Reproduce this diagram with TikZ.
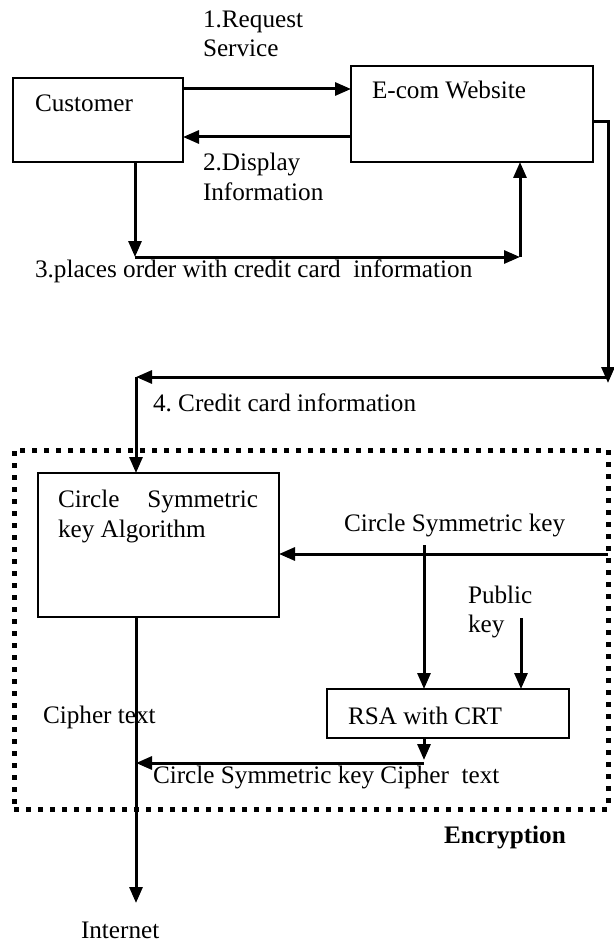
\documentclass[tikz,border=0pt]{standalone}
\usepackage{fontspec}
\setmainfont{Liberation Serif}
\usetikzlibrary{arrows.meta}
\frenchspacing
\begin{document}
\begin{tikzpicture}[x=0.5pt,y=-0.5pt,
  every node/.style={font=\fontsize{12.6}{14.5}\selectfont},
  box/.style={draw, line width=1pt, inner sep=0pt, outer sep=0pt},
  lbl/.style={inner sep=0pt, outer sep=0pt, anchor=base west},
  arr/.style={line width=1.5pt, -{Triangle[length=8pt,width=6.5pt]}},
  groupbox/.style={draw, line width=2.5pt, dash pattern=on 2.5pt off 3.5pt,
                   inner sep=0pt, outer sep=0pt}]
\useasboundingbox (0,0) rectangle (614,941);

% main boxes
\node[box, minimum width=85pt,  minimum height=42pt]   (cust) at (98,120)    {};
\node[box, minimum width=121pt, minimum height=48pt]   (web)  at (472,114)   {};
\node[groupbox, minimum width=297pt, minimum height=179.5pt] (enc) at (311,629.5) {};
\node[box, minimum width=120.5pt, minimum height=72pt] (csa)  at (158.5,545) {};
\node[box, minimum width=121pt, minimum height=24.5pt] (rsa)  at (448,713.5) {};

% texts
\node[lbl] (t-cust) at (35,112)  {Customer};
\node[lbl] (t-web)  at (372,99)  {E-com Website};
\node[lbl] (t-req1) at (203,28)  {1.Request};
\node[lbl] (t-req2) at (203,57)  {Service};
\node[lbl] (t-dis1) at (203,171) {2.Display};
\node[lbl] (t-dis2) at (203,200) {Information};
\node[lbl] (t-ord)  at (35,277)  {3.places order with credit card\ \ information};
\node[lbl] (t-cc)   at (153,411) {4. Credit card information};
\node[lbl] (t-csa1) at (58,507)  {\makebox[100pt][s]{Circle Symmetric}};
\node[lbl] (t-csa2) at (58,537)  {key Algorithm};
\node[lbl] (t-key)  at (344,531) {Circle Symmetric key};
\node[lbl] (t-pub1) at (468,603) {Public};
\node[lbl] (t-pub2) at (468,632) {key};
\node[lbl] (t-rsa)  at (348,724) {RSA with CRT};
\node[lbl] (t-ct)   at (43,723)  {Cipher text};
\node[lbl] (t-kct)  at (153,783) {Circle Symmetric key Cipher\ \ text};
\node[lbl] (t-enc)  at (444,843) {\bfseries Encryption};
\node[lbl] (t-net)  at (81,938)  {Internet};

% customer <-> website
\coordinate (y1) at (0,89);
\coordinate (y2) at (0,137);
\draw[arr] (cust.east |- y1) -- (web.west |- y1);
\draw[arr] (web.west |- y2) -- (cust.east |- y2);

% order path
\coordinate (o1) at (135,257);
\coordinate (o2) at (520,257);
\draw[arr] (cust.south -| o1) -- (o1);
\draw[arr] (o1) -- (o2);
\draw[arr] (o2) -- (o2 |- web.south);

% credit card information to the encryption stage
\coordinate (r1) at (608,122);
\coordinate (r2) at (608,383);
\coordinate (r3) at (608,377);
\coordinate (r4) at (136,377);
\draw[arr] (web.east |- r1) -- (r1) -- (r2);
\draw[arr] (r3) -- (r4);
\draw[arr] (r4) -- (r4 |- csa.north);

% keys
\coordinate (k0) at (0,554);
\coordinate (k1) at (424,545);
\coordinate (pk) at (521,618);
\draw[arr] (enc.east |- k0) -- (csa.east |- k0);
\draw[arr] (k1) -- (k1 |- rsa.north);
\draw[arr] (pk) -- (pk |- rsa.north);

% key cipher text back to the output line
\coordinate (c1) at (424,760);
\coordinate (c2) at (424,763);
\coordinate (c3) at (136,763);
\draw[arr] (rsa.south -| c1) -- (c1);
\draw[arr] (c2) -- (c3);

% cipher text out to the internet
\coordinate (net) at (136,903);
\draw[arr] (csa.south -| net) -- (net);
\end{tikzpicture}
\end{document}
